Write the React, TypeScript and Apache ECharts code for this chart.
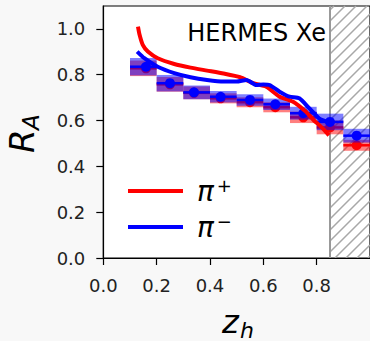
import React, { useEffect, useRef } from "react";
import * as echarts from "echarts";

// Bin edges and mean z of each bin
const binLo = [0.1, 0.2, 0.3, 0.4, 0.5, 0.6, 0.7, 0.8, 0.9];
const binHi = [0.2, 0.3, 0.4, 0.5, 0.6, 0.7, 0.8, 0.9, 1.0];
const zMean = [0.16, 0.25, 0.34, 0.44, 0.55, 0.645, 0.75, 0.85, 0.95];

// HERMES data points
const redRA = [0.828, 0.758, 0.721, 0.697, 0.68, 0.658, 0.614, 0.57, 0.492];
const redErr = [0.034, 0.032, 0.028, 0.022, 0.022, 0.022, 0.025, 0.03, 0.024];
const blueRA = [0.835, 0.763, 0.723, 0.704, 0.69, 0.671, 0.632, 0.594, 0.534];
const blueErr = [0.038, 0.036, 0.03, 0.025, 0.025, 0.025, 0.028, 0.036, 0.03];

// Model curves
const redCurveZ = [0.13, 0.136, 0.148, 0.167, 0.204, 0.266, 0.327, 0.389, 0.451, 0.513, 0.562, 0.611, 0.661, 0.71, 0.759, 0.79, 0.809, 0.827, 0.846];
const redCurveR = [1.01, 0.974, 0.93, 0.901, 0.872, 0.847, 0.831, 0.818, 0.805, 0.789, 0.763, 0.748, 0.704, 0.683, 0.639, 0.6, 0.581, 0.56, 0.535];
const blueCurveZ = [0.127, 0.154, 0.204, 0.266, 0.327, 0.389, 0.451, 0.5, 0.537, 0.574, 0.6, 0.624, 0.661, 0.698, 0.735, 0.772, 0.809, 0.846];
const blueCurveR = [0.901, 0.872, 0.835, 0.807, 0.789, 0.777, 0.77, 0.77, 0.777, 0.755, 0.757, 0.755, 0.726, 0.704, 0.697, 0.654, 0.61, 0.592];

const xTicks = [0, 0.2, 0.4, 0.6, 0.8];
const yTicks = [0, 0.2, 0.4, 0.6, 0.8, 1.0];
const cutZ = 0.85;

const FONT = "DejaVu Sans";

function boxSeries(name: string, vals: number[], errs: number[], fill: string, stroke: string, z: number) {
  return {
    type: "custom",
    name,
    z,
    data: vals.map((v, i) => [binLo[i], binHi[i], v, errs[i]]),
    renderItem: (params: any, api: any) => {
      const lo = api.value(0), hi = api.value(1), c = api.value(2), e = api.value(3);
      const p1 = api.coord([lo, c + e]);
      const p2 = api.coord([hi, c - e]);
      const m1 = api.coord([lo, c]);
      const m2 = api.coord([hi, c]);
      return {
        type: "group",
        children: [
          { type: "rect", shape: { x: p1[0], y: p1[1], width: p2[0] - p1[0], height: p2[1] - p1[1] }, style: { fill } },
          { type: "line", shape: { x1: m1[0], y1: m1[1], x2: m2[0], y2: m2[1] }, style: { stroke, lineWidth: 2.5 } },
        ],
      };
    },
  };
}

export default function App() {
  const ref = useRef<HTMLDivElement>(null);
  useEffect(() => {
    const chart = echarts.init(ref.current!, null, { renderer: "svg" });
    const option: any = {
      animation: false,
      backgroundColor: "#f8f8f8",
      textStyle: { fontFamily: FONT },
      grid: { left: 103.3, top: 6, right: -3.3, bottom: 83, show: true, backgroundColor: "#ffffff", borderColor: "#000", borderWidth: 1.2 },
      xAxis: {
        type: "value", min: 0, max: 1, interval: 0.2,
        axisLine: { show: true, lineStyle: { color: "#000", width: 1.2 } },
        axisTick: { show: true, length: 7, lineStyle: { color: "#000", width: 1.2 }, customValues: xTicks },
        axisLabel: { fontSize: 18, color: "#222", margin: 18, fontFamily: FONT, customValues: xTicks, formatter: (v: number) => v.toFixed(1) },
        splitLine: { show: false },
      },
      yAxis: {
        type: "value", min: 0, max: 1.1,
        axisLine: { show: true, lineStyle: { color: "#000", width: 1.2 } },
        axisTick: { show: true, length: 7, lineStyle: { color: "#000", width: 1.2 }, customValues: yTicks },
        axisLabel: { fontSize: 18, color: "#222", margin: 18, fontFamily: FONT, customValues: yTicks, formatter: (v: number) => v.toFixed(1) },
        splitLine: { show: false },
      },
      legend: {
        data: ["pip", "pim"],
        orient: "vertical",
        left: 123, top: 171,
        itemWidth: 55, itemHeight: 4, itemGap: 7,
        icon: "rect",
        selectedMode: false,
        formatter: (n: string) => (n === "pip" ? "{p|π}{s|+}" : "{p|π}{s|−}"),
        textStyle: {
          rich: {
            p: { fontSize: 28, fontStyle: "italic", fontFamily: FONT, color: "#000", lineHeight: 30, padding: [0, 0, 0, 9] },
            s: { fontSize: 18, fontFamily: FONT, color: "#000", verticalAlign: "top", lineHeight: 14, padding: [0, 0, 0, 3] },
          },
        },
      },
      graphic: [
        { type: "text", x: 326, y: 33, style: { text: "HERMES Xe", fontSize: 24, fontFamily: FONT, fill: "#000", align: "right", verticalAlign: "middle" }, z: 100 },
        {
          type: "group", x: 22, y: 153, rotation: Math.PI / 2,
          children: [
            { type: "text", x: 0, y: 0, style: { text: "R", fontSize: 34, fontStyle: "italic", fontFamily: FONT, fill: "#000", align: "left", verticalAlign: "middle" } },
            { type: "text", x: 23, y: 9, style: { text: "A", fontSize: 23, fontStyle: "italic", fontFamily: FONT, fill: "#000", align: "left", verticalAlign: "middle" } },
          ],
        },
        {
          type: "group", x: 222, y: 322,
          children: [
            { type: "text", x: 0, y: 0, style: { text: "z", fontSize: 32, fontStyle: "italic", fontFamily: FONT, fill: "#000", align: "left", verticalAlign: "middle" } },
            { type: "text", x: 18, y: 8, style: { text: "h", fontSize: 22, fontStyle: "italic", fontFamily: FONT, fill: "#000", align: "left", verticalAlign: "middle" } },
          ],
        },
      ],
      series: [
        {
          type: "custom",
          name: "cut",
          z: 0,
          data: [[cutZ, 1.0]],
          renderItem: (params: any, api: any) => {
            const a = api.coord([api.value(0), 1.1]);
            const b = api.coord([api.value(1), 0]);
            const x0 = a[0], y0 = a[1], x1 = b[0], y1 = b[1];
            const children: any[] = [];
            const step = 11;
            for (let c = x0 + y0 + 4; c < x1 + y1; c += step) {
              const pa = Math.max(x0, c - y1);
              const pb = Math.min(x1, c - y0);
              if (pb > pa) {
                children.push({ type: "line", shape: { x1: pa, y1: c - pa, x2: pb, y2: c - pb }, style: { stroke: "#a8a8a8", lineWidth: 1.5 } });
              }
            }
            children.push({ type: "line", shape: { x1: x0, y1: y0, x2: x0, y2: y1 }, style: { stroke: "#999", lineWidth: 2 } });
            return { type: "group", children };
          },
        },
        boxSeries("redBox", redRA, redErr, "rgba(255,0,0,0.5)", "#ff0000", 1),
        { type: "scatter", name: "redPts", z: 2, data: zMean.map((z, i) => [z, redRA[i]]), symbolSize: 10, itemStyle: { color: "#ff0000", opacity: 1 } },
        boxSeries("blueBox", blueRA, blueErr, "rgba(0,0,255,0.5)", "#0000ff", 3),
        { type: "scatter", name: "bluePts", z: 4, data: zMean.map((z, i) => [z, blueRA[i]]), symbolSize: 10, itemStyle: { color: "#0000ff", opacity: 1 } },
        { type: "line", name: "pip", z: 5, data: redCurveZ.map((z, i) => [z, redCurveR[i]]), showSymbol: false, symbol: "none", smooth: 0.2, lineStyle: { color: "#ff0000", width: 4 }, itemStyle: { color: "#ff0000" } },
        { type: "line", name: "pim", z: 6, data: blueCurveZ.map((z, i) => [z, blueCurveR[i]]), showSymbol: false, symbol: "none", smooth: 0.2, lineStyle: { color: "#0000ff", width: 4 }, itemStyle: { color: "#0000ff" } },
      ],
    };
    chart.setOption(option);
    return () => chart.dispose();
  }, []);
  return <div ref={ref} style={{ position: "fixed", left: 0, top: 0, width: 370, height: 341 }} />;
}
